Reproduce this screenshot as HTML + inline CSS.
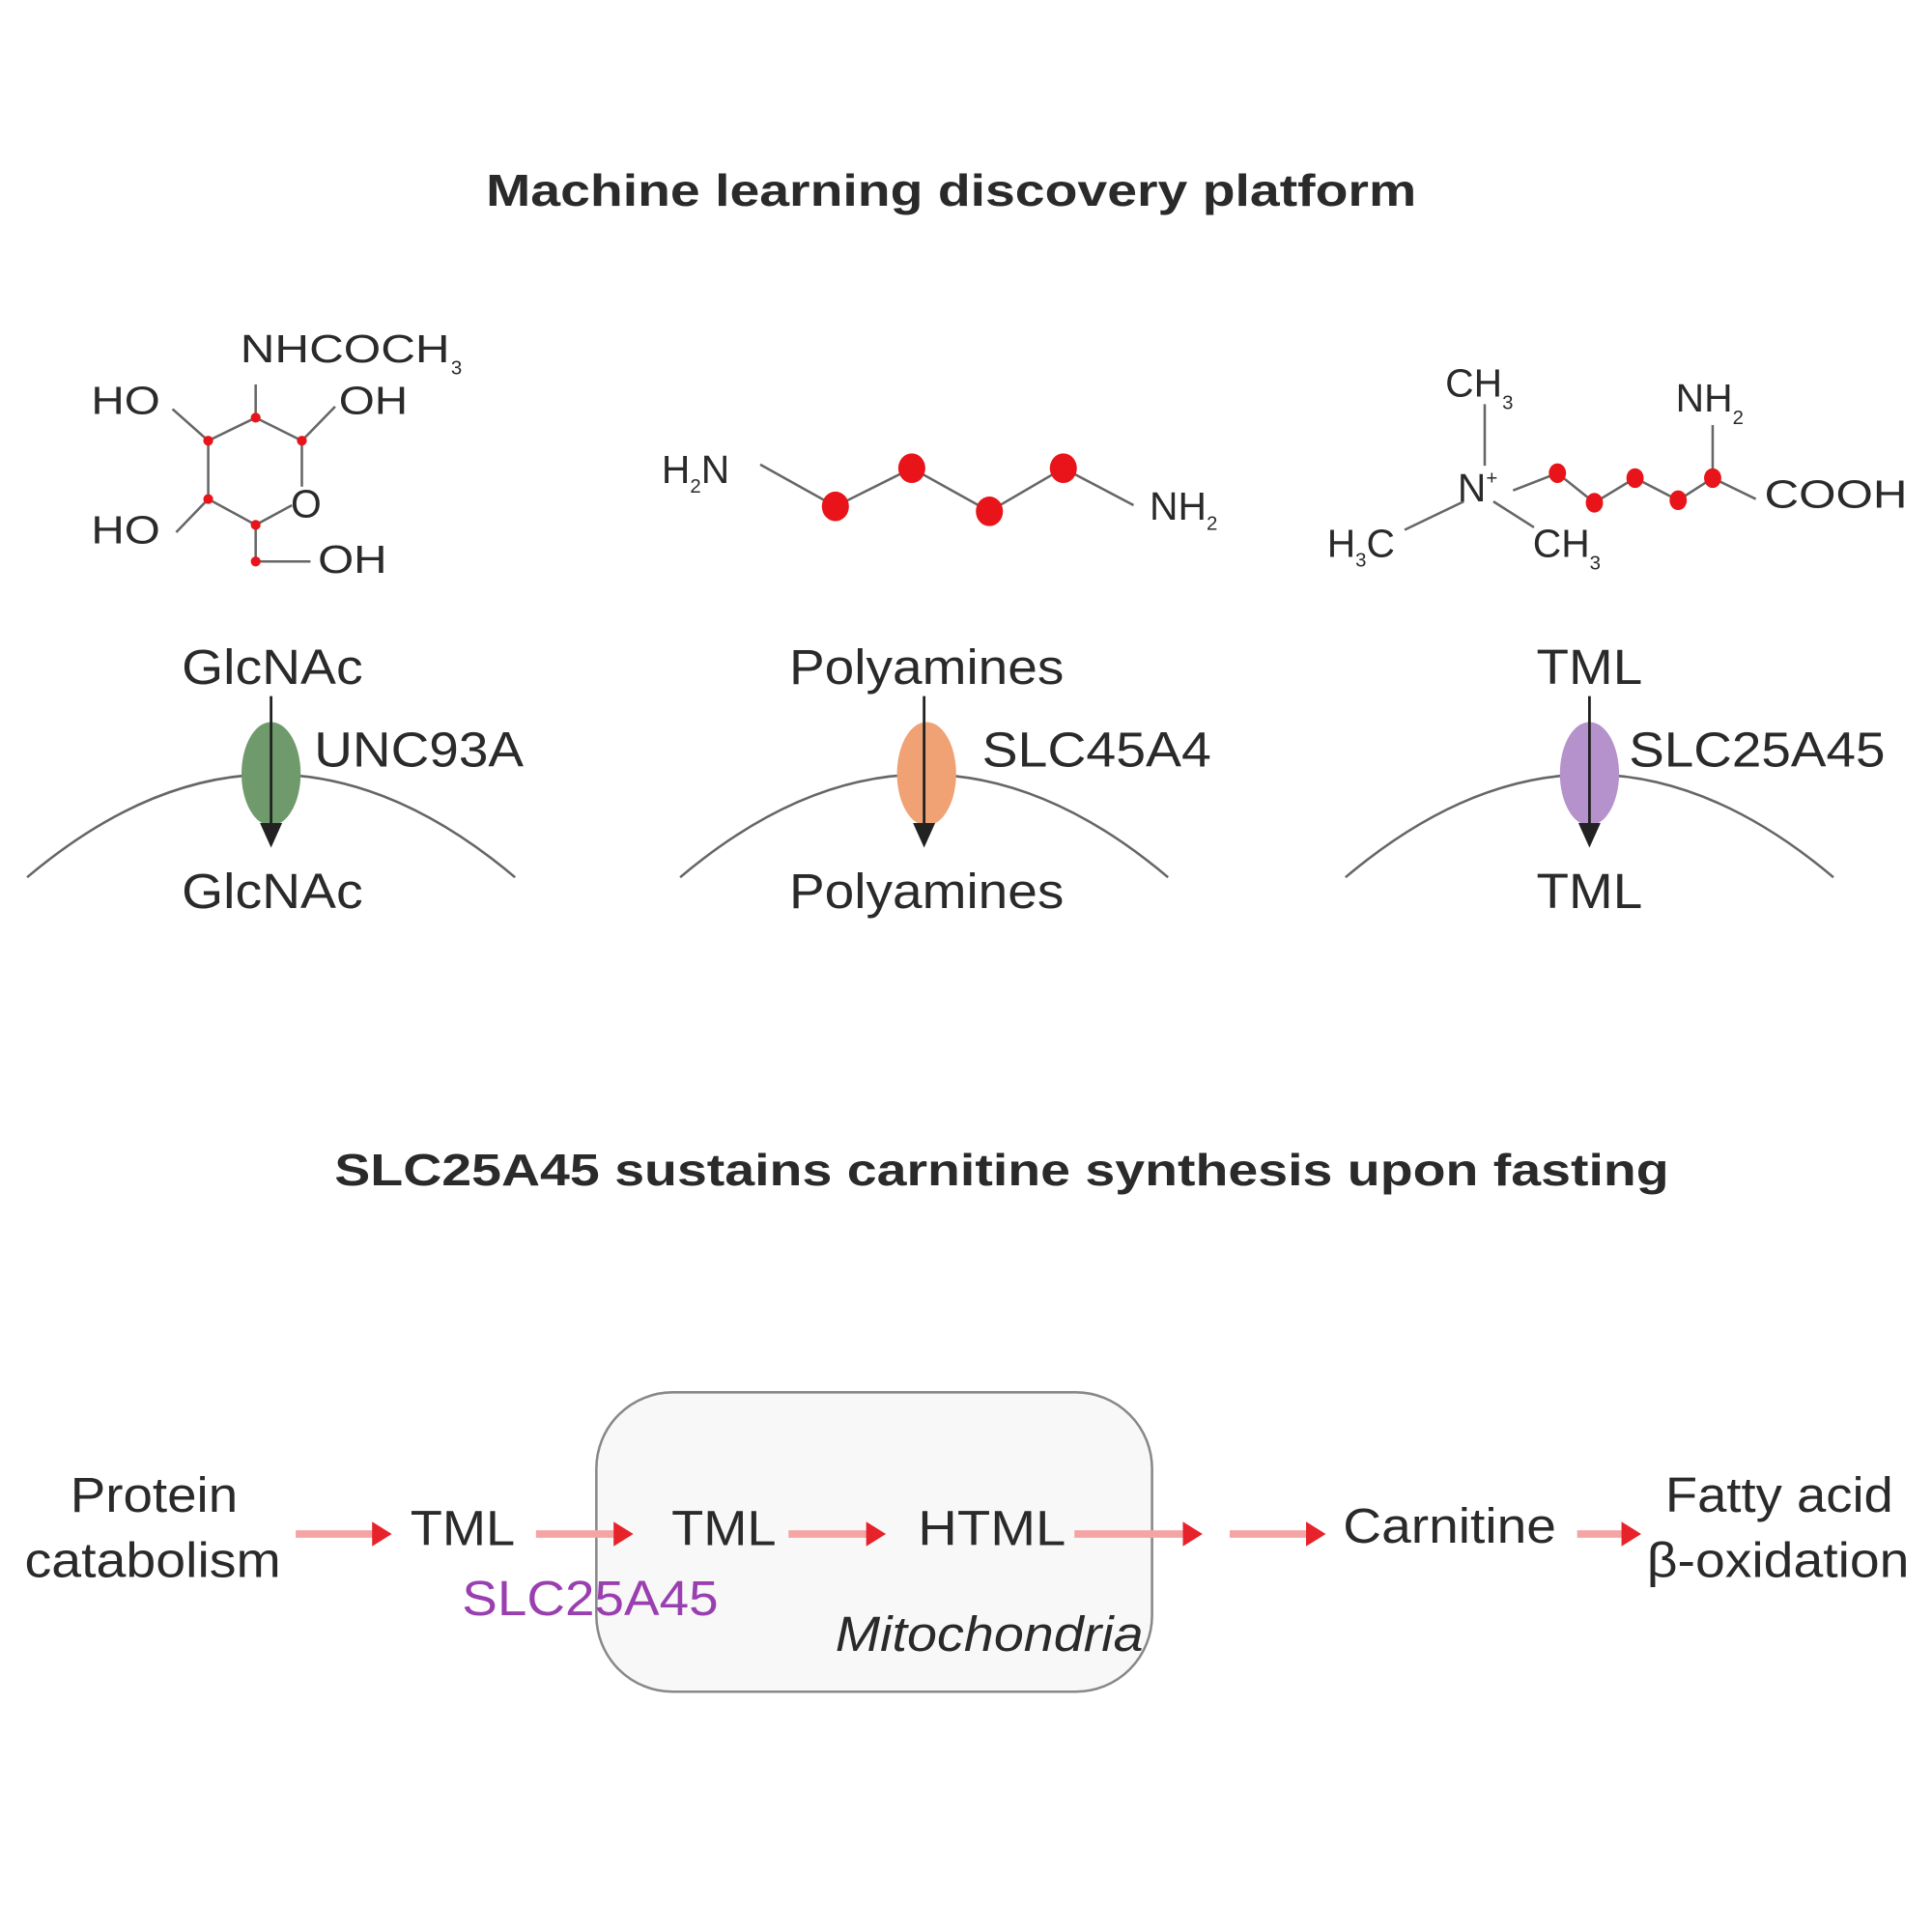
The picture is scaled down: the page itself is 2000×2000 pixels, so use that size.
<!DOCTYPE html>
<html><head><meta charset="utf-8"><style>
html,body{margin:0;padding:0;background:#fff;}
svg{display:block;}
text{font-family:"Liberation Sans",Arial,sans-serif;fill:#2a2a2a;}
</style></head><body>
<svg width="2000" height="2000" viewBox="0 0 1568 1568" xmlns="http://www.w3.org/2000/svg">
<rect width="1568" height="1568" fill="#fff"/>
<text x="772" y="167" font-size="36" font-weight="bold" text-anchor="middle" textLength="755" lengthAdjust="spacingAndGlyphs">Machine learning discovery platform</text>

<!-- GlcNAc structure -->
<g stroke="#666" stroke-width="2" fill="none">
<polyline points="169,357.7 207.5,339 245,357.7"/>
<line x1="169" y1="357.7" x2="169" y2="405"/>
<line x1="245" y1="357.7" x2="245" y2="395"/>
<polyline points="169,405 207.5,426 237,410"/>
<line x1="207.5" y1="339" x2="207.5" y2="312"/>
<line x1="245" y1="357.7" x2="272" y2="330"/>
<line x1="169" y1="357.7" x2="140" y2="332"/>
<line x1="169" y1="405" x2="143" y2="432"/>
<line x1="207.5" y1="426" x2="207.5" y2="455.7"/>
<line x1="207.5" y1="455.7" x2="252" y2="455.7"/>
</g>
<g fill="#e8141a">
<circle cx="169" cy="357.7" r="4"/><circle cx="207.5" cy="339" r="4"/><circle cx="245" cy="357.7" r="4"/>
<circle cx="169" cy="405" r="4"/><circle cx="207.5" cy="426" r="4"/><circle cx="207.5" cy="455.7" r="4"/>
</g>
<g font-size="32">
<text x="195" y="294" textLength="170" lengthAdjust="spacingAndGlyphs">NHCOCH</text><text x="366" y="304" font-size="16">3</text>
<text x="74" y="336" textLength="56" lengthAdjust="spacingAndGlyphs">HO</text>
<text x="275" y="336" textLength="56" lengthAdjust="spacingAndGlyphs">OH</text>
<text x="74" y="441" textLength="56" lengthAdjust="spacingAndGlyphs">HO</text>
<text x="236" y="420">O</text>
<text x="258" y="465" textLength="56" lengthAdjust="spacingAndGlyphs">OH</text>
</g>

<!-- Polyamine -->
<polyline points="617,377 678,411 740,380 803,415 863,380 920,410" stroke="#666" stroke-width="2" fill="none"/>
<g fill="#e8141a"><ellipse cx="678" cy="411" rx="11" ry="12"/><ellipse cx="740" cy="380" rx="11" ry="12"/><ellipse cx="803" cy="415" rx="11" ry="12"/><ellipse cx="863" cy="380" rx="11" ry="12"/></g>
<g font-size="32">
<text x="537" y="392">H<tspan font-size="16" dy="8">2</tspan><tspan dy="-8">N</tspan></text>
<text x="933" y="422">NH<tspan font-size="16" dy="8">2</tspan></text>
</g>

<!-- TML structure -->
<g stroke="#666" stroke-width="2" fill="none">
<line x1="1205" y1="328" x2="1205" y2="378"/>
<line x1="1140" y1="430" x2="1188" y2="407"/>
<line x1="1212" y1="407" x2="1245" y2="428"/>
<polyline points="1228,398 1264,384 1294,408 1327,388 1362,406 1390,388 1425,405"/>
<line x1="1390" y1="345" x2="1390" y2="388"/>
</g>
<g fill="#e8141a"><ellipse cx="1264" cy="384" rx="7" ry="8"/><ellipse cx="1294" cy="408" rx="7" ry="8"/><ellipse cx="1327" cy="388" rx="7" ry="8"/><ellipse cx="1362" cy="406" rx="7" ry="8"/><ellipse cx="1390" cy="388" rx="7" ry="8"/></g>
<g font-size="32">
<text x="1173" y="322">CH<tspan font-size="16" dy="10">3</tspan></text>
<text x="1183" y="407">N<tspan font-size="16" dy="-14">+</tspan></text>
<text x="1360" y="334">NH<tspan font-size="16" dy="10">2</tspan></text>
<text x="1432" y="412" textLength="116" lengthAdjust="spacingAndGlyphs">COOH</text>
<text x="1077" y="452">H<tspan font-size="16" dy="8">3</tspan><tspan dy="-8">C</tspan></text>
<text x="1244" y="452">CH<tspan font-size="16" dy="10">3</tspan></text>
</g>

<!-- Transport panels -->
<g font-size="40">
<text x="221" y="555" text-anchor="middle" textLength="147" lengthAdjust="spacingAndGlyphs">GlcNAc</text>
<text x="221" y="737" text-anchor="middle" textLength="147" lengthAdjust="spacingAndGlyphs">GlcNAc</text>
<text x="255" y="622" textLength="170" lengthAdjust="spacingAndGlyphs">UNC93A</text>
<text x="752" y="555" text-anchor="middle" textLength="223" lengthAdjust="spacingAndGlyphs">Polyamines</text>
<text x="752" y="737" text-anchor="middle" textLength="223" lengthAdjust="spacingAndGlyphs">Polyamines</text>
<text x="797" y="622" textLength="186" lengthAdjust="spacingAndGlyphs">SLC45A4</text>
<text x="1290" y="555" text-anchor="middle" textLength="86" lengthAdjust="spacingAndGlyphs">TML</text>
<text x="1290" y="737" text-anchor="middle" textLength="86" lengthAdjust="spacingAndGlyphs">TML</text>
<text x="1322" y="622" textLength="208" lengthAdjust="spacingAndGlyphs">SLC25A45</text>
</g>
<g fill="none" stroke="#666" stroke-width="2">
<path d="M22,712 Q220,545 418,712"/>
<path d="M552,712 Q750,545 948,712"/>
<path d="M1092,712 Q1290,545 1488,712"/>
</g>
<ellipse cx="220" cy="628" rx="24" ry="42" fill="#6f9a6c"/>
<ellipse cx="752" cy="628" rx="24" ry="42" fill="#f0a274"/>
<ellipse cx="1290" cy="628" rx="24" ry="42" fill="#b592cc"/>
<g stroke="#222" stroke-width="2.2">
<line x1="220" y1="565" x2="220" y2="672"/>
<line x1="750" y1="565" x2="750" y2="672"/>
<line x1="1290" y1="565" x2="1290" y2="672"/>
</g>
<g fill="#222">
<path d="M211,668 L229,668 L220,688 z"/>
<path d="M741,668 L759,668 L750,688 z"/>
<path d="M1281,668 L1299,668 L1290,688 z"/>
</g>

<text x="813" y="962" font-size="36" font-weight="bold" text-anchor="middle" textLength="1083" lengthAdjust="spacingAndGlyphs">SLC25A45 sustains carnitine synthesis upon fasting</text>

<!-- Mitochondria box -->
<rect x="484" y="1130" width="451" height="243" rx="62" fill="#f8f8f8" stroke="#888" stroke-width="2"/>

<g font-size="40">
<text x="125" y="1227" text-anchor="middle" textLength="136" lengthAdjust="spacingAndGlyphs">Protein</text>
<text x="124" y="1280" text-anchor="middle" textLength="208" lengthAdjust="spacingAndGlyphs">catabolism</text>
<text x="333" y="1254" textLength="85" lengthAdjust="spacingAndGlyphs">TML</text>
<text x="545" y="1254" textLength="85" lengthAdjust="spacingAndGlyphs">TML</text>
<text x="745" y="1254" textLength="120" lengthAdjust="spacingAndGlyphs">HTML</text>
<text x="1090" y="1252" textLength="173" lengthAdjust="spacingAndGlyphs">Carnitine</text>
<text x="1444" y="1227" text-anchor="middle" textLength="185" lengthAdjust="spacingAndGlyphs">Fatty acid</text>
<text x="1443" y="1280" text-anchor="middle" textLength="213" lengthAdjust="spacingAndGlyphs">β-oxidation</text>
<text x="375" y="1311" textLength="208" lengthAdjust="spacingAndGlyphs" style="fill:#9a3fb0">SLC25A45</text>
<text x="678" y="1340" font-style="italic" textLength="250" lengthAdjust="spacingAndGlyphs">Mitochondria</text>
</g>

<!-- red arrows -->
<g stroke="#f4a4a4" stroke-width="6">
<line x1="240" y1="1245" x2="304" y2="1245"/>
<line x1="435" y1="1245" x2="500" y2="1245"/>
<line x1="640" y1="1245" x2="705" y2="1245"/>
<line x1="872" y1="1245" x2="962" y2="1245"/>
<line x1="998" y1="1245" x2="1062" y2="1245"/>
<line x1="1280" y1="1245" x2="1318" y2="1245"/>
</g>
<g fill="#e8222a">
<path d="M302,1235 L318,1245 L302,1255 z"/>
<path d="M498,1235 L514,1245 L498,1255 z"/>
<path d="M703,1235 L719,1245 L703,1255 z"/>
<path d="M960,1235 L976,1245 L960,1255 z"/>
<path d="M1060,1235 L1076,1245 L1060,1255 z"/>
<path d="M1316,1235 L1332,1245 L1316,1255 z"/>
</g>
</svg>
</body></html>
